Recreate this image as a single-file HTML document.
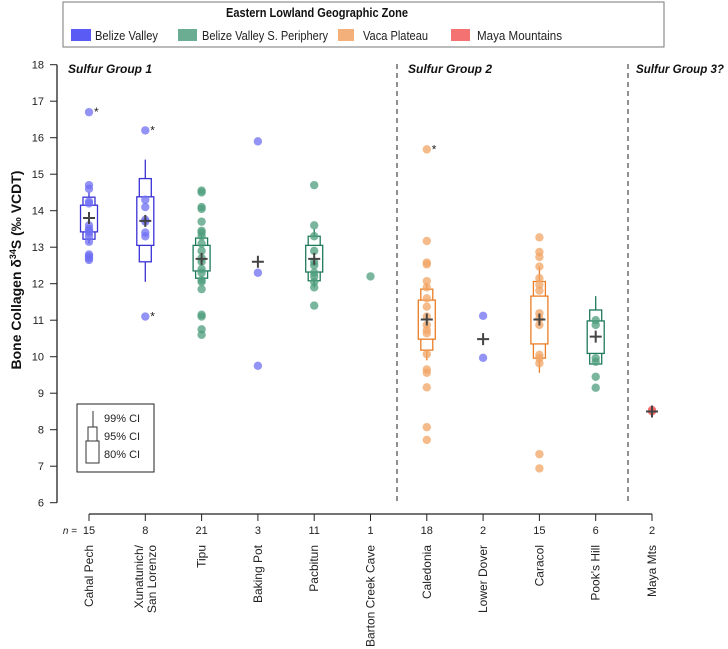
<!DOCTYPE html>
<html><head><meta charset="utf-8"><style>
html,body{margin:0;padding:0;background:#fff;}
svg{display:block;font-family:"Liberation Sans",sans-serif;}
</style></head><body>
<svg id="chart" width="728" height="649" viewBox="0 0 728 649" xmlns="http://www.w3.org/2000/svg">
<g>
<rect x="63" y="2" width="601" height="45" fill="#fff" stroke="#777" stroke-width="1"/>
<text x="226" y="17" textLength="182" lengthAdjust="spacingAndGlyphs" font-size="13" font-weight="bold" fill="#111">Eastern Lowland Geographic Zone</text>
<g><rect x="71" y="29" width="20" height="12" fill="#5a5af5"/><text x="95" y="40" textLength="63" lengthAdjust="spacingAndGlyphs" font-size="13" fill="#222">Belize Valley</text></g>
<g><rect x="178" y="29" width="19" height="12" fill="#6aad92"/><text x="202" y="40" textLength="126" lengthAdjust="spacingAndGlyphs" font-size="13" fill="#222">Belize Valley S. Periphery</text></g>
<g><rect x="338" y="29" width="16" height="12" fill="#f4b07a"/><text x="363" y="40" textLength="65" lengthAdjust="spacingAndGlyphs" font-size="13" fill="#222">Vaca Plateau</text></g>
<g><rect x="451" y="29" width="19" height="12" fill="#f47272"/><text x="477" y="40" textLength="85" lengthAdjust="spacingAndGlyphs" font-size="13" fill="#222">Maya Mountains</text></g>
</g>
<text transform="translate(21,270) rotate(-90)" text-anchor="middle" font-size="14" font-weight="bold" fill="#111">Bone Collagen δ<tspan baseline-shift="super" font-size="9">34</tspan>S (‰ VCDT)</text>
<text x="68" y="73" textLength="84" lengthAdjust="spacingAndGlyphs" font-size="12" font-weight="bold" font-style="italic" fill="#111">Sulfur Group 1</text>
<text x="408" y="73" textLength="84" lengthAdjust="spacingAndGlyphs" font-size="12" font-weight="bold" font-style="italic" fill="#111">Sulfur Group 2</text>
<text x="636" y="73" textLength="88" lengthAdjust="spacingAndGlyphs" font-size="12" font-weight="bold" font-style="italic" fill="#111">Sulfur Group 3?</text>
<line x1="397" y1="64" x2="397" y2="502" stroke="#222" stroke-dasharray="5,4"/>
<line x1="628" y1="64" x2="628" y2="502" stroke="#222" stroke-dasharray="5,4"/>
<g>
<rect x="77" y="404" width="77" height="68" fill="#fff" stroke="#222"/>
<line x1="93" y1="411" x2="93" y2="427" stroke="#333"/>
<rect x="88" y="427" width="9" height="14" fill="#fff" stroke="#333"/>
<rect x="86" y="441" width="13" height="22" fill="#fff" stroke="#333"/>
<text x="104" y="422" font-size="11" fill="#222">99% CI</text>
<text x="104" y="440" font-size="11" fill="#222">95% CI</text>
<text x="104" y="458" font-size="11" fill="#222">80% CI</text>
</g>
<g id="plot"></g>
</svg>
<script>
const sites = ["Cahal Pech","Xunatunich/|San Lorenzo","Tipu","Baking Pot","Pacbitun","Barton Creek Cave","Caledonia","Lower Dover","Caracol","Pook's Hill","Maya Mts"];
const counts = [15,8,21,3,11,1,18,2,15,6,2];
const zones = ["bv","bv","bvs","bv","bvs","bvs","vp","bv","vp","bvs","mm"];
const values = [
 [16.7,14.7,14.6,14.25,14.2,13.6,13.5,13.45,13.4,13.3,13.15,12.8,12.75,12.7,12.65],
 [16.2,14.3,14.1,13.75,13.7,13.4,13.3,11.1],
 [14.55,14.5,14.1,14.05,13.7,13.45,13.4,13.3,13.1,12.9,12.7,12.6,12.4,12.3,12.1,12.05,11.85,11.15,11.1,10.75,10.6],
 [15.9,12.3,9.75],
 [14.7,13.6,13.3,12.9,12.6,12.5,12.3,12.2,12.05,11.9,11.4],
 [12.2],
 [15.68,13.17,12.58,12.53,12.07,11.9,11.6,11.37,11.1,10.87,10.73,10.64,10.07,9.65,9.56,9.16,8.07,7.72],
 [11.12,9.97],
 [13.27,12.87,12.73,12.47,12.15,11.97,11.81,11.19,11.05,10.87,10.05,9.96,9.82,7.33,6.94],
 [11.0,10.87,9.96,9.86,9.45,9.15],
 [8.54,8.5]
];
const means = [13.8,13.72,12.68,12.6,12.68,null,11.02,10.48,11.02,10.55,8.5];
const ci80 = [[13.42,14.15],[13.05,14.38],[12.35,13.05],null,[12.32,13.05],null,[10.48,11.55],null,[10.35,11.66],[10.09,10.98],null];
const ci95 = [[13.22,14.37],[12.6,14.88],[12.15,13.25],null,[12.08,13.3],null,[10.18,11.85],null,[9.96,12.06],[9.8,11.28],null];
const ci99 = [[13.1,14.5],[12.05,15.4],[12.1,13.3],null,[11.9,13.5],null,[9.9,11.98],null,[9.56,12.47],[9.8,11.66],null];
const outliers = [[16.7],[16.2,11.1],[],[],[],[],[15.68],[],[],[],[]];
const yTicks = [6,7,8,9,10,11,12,13,14,15,16,17,18];

const pointCol = {bv:"#6f6ff3",bvs:"#4d9d7c",vp:"#f2a464",mm:"#ee5a5a"};
const boxCol = {bv:"#3b32d6",bvs:"#1f7a5a",vp:"#ea7d25",mm:"#d33"};
const NS="http://www.w3.org/2000/svg";
const svg=document.getElementById('plot');
const y=v=>64.7+(18-v)*36.5;
const x=i=>89+i*56.3;
function mk(tag,attrs,parent){const e=document.createElementNS(NS,tag);for(const k in attrs)e.setAttribute(k,attrs[k]);(parent||svg).appendChild(e);return e;}

const ya=mk('g',{});


mk('line',{x1:57,y1:y(18),x2:57,y2:y(6),stroke:'#222','stroke-width':1.3},ya);
yTicks.forEach(t=>{
 mk('line',{x1:50,y1:y(t),x2:57,y2:y(t),stroke:'#222'},ya);
 const tx=mk('text',{x:44,y:y(t)+4,'text-anchor':'end','font-size':11,fill:'#222'},ya);tx.textContent=t;
});
const xa=mk('g',{});


mk('line',{x1:x(0),y1:514,x2:x(10),y2:514,stroke:'#222','stroke-width':1.3},xa);
const nl=mk('text',{x:x(0)-12,y:534,'text-anchor':'end','font-size':10,'font-style':'italic',fill:'#222'},xa);nl.textContent='n =';
sites.forEach((s,i)=>{
 mk('line',{x1:x(i),y1:514,x2:x(i),y2:521,stroke:'#222'},xa);
 const n=mk('text',{x:x(i),y:534,'text-anchor':'middle','font-size':11,fill:'#222'},xa);n.textContent=counts[i];
 const lines=s.split('|');
 lines.forEach((ln,j)=>{
  const off=(j-(lines.length-1)/2)*13;
  const t=mk('text',{transform:`translate(${x(i)+4+off},545) rotate(-90)`,'text-anchor':'end','font-size':12,fill:'#222'},xa);
  t.textContent=ln;
 });
});
sites.forEach((s,i)=>{
 const g=mk('g',{});
 
 
 const bc=boxCol[zones[i]],pc=pointCol[zones[i]],cx=x(i);
 if(ci99[i]) mk('line',{x1:cx,y1:y(ci99[i][0]),x2:cx,y2:y(ci99[i][1]),stroke:bc,'stroke-width':1.3},g);
 if(ci95[i]) mk('rect',{x:cx-6,y:y(ci95[i][1]),width:12,height:y(ci95[i][0])-y(ci95[i][1]),fill:'#fff',stroke:bc,'stroke-width':1.3},g);
 if(ci80[i]) mk('rect',{x:cx-8.5,y:y(ci80[i][1]),width:17,height:y(ci80[i][0])-y(ci80[i][1]),fill:'#fff',stroke:bc,'stroke-width':1.3},g);
 values[i].forEach(v=>{
  const c=mk('circle',{cx:cx,cy:y(v),r:4.2,fill:pc,'fill-opacity':0.75},g);
  
  
 });
 outliers[i].forEach(v=>{
  const t=mk('text',{x:cx+5,y:y(v)+4,'font-size':12,fill:'#222'},g);t.textContent='*';
 });
 if(means[i]!==null){
  const m=y(means[i]);
  mk('path',{d:`M${cx-6},${m}H${cx+6}M${cx},${m-6}V${m+6}`,stroke:'#444','stroke-width':2},g);
 }
});
</script>
</body></html>
